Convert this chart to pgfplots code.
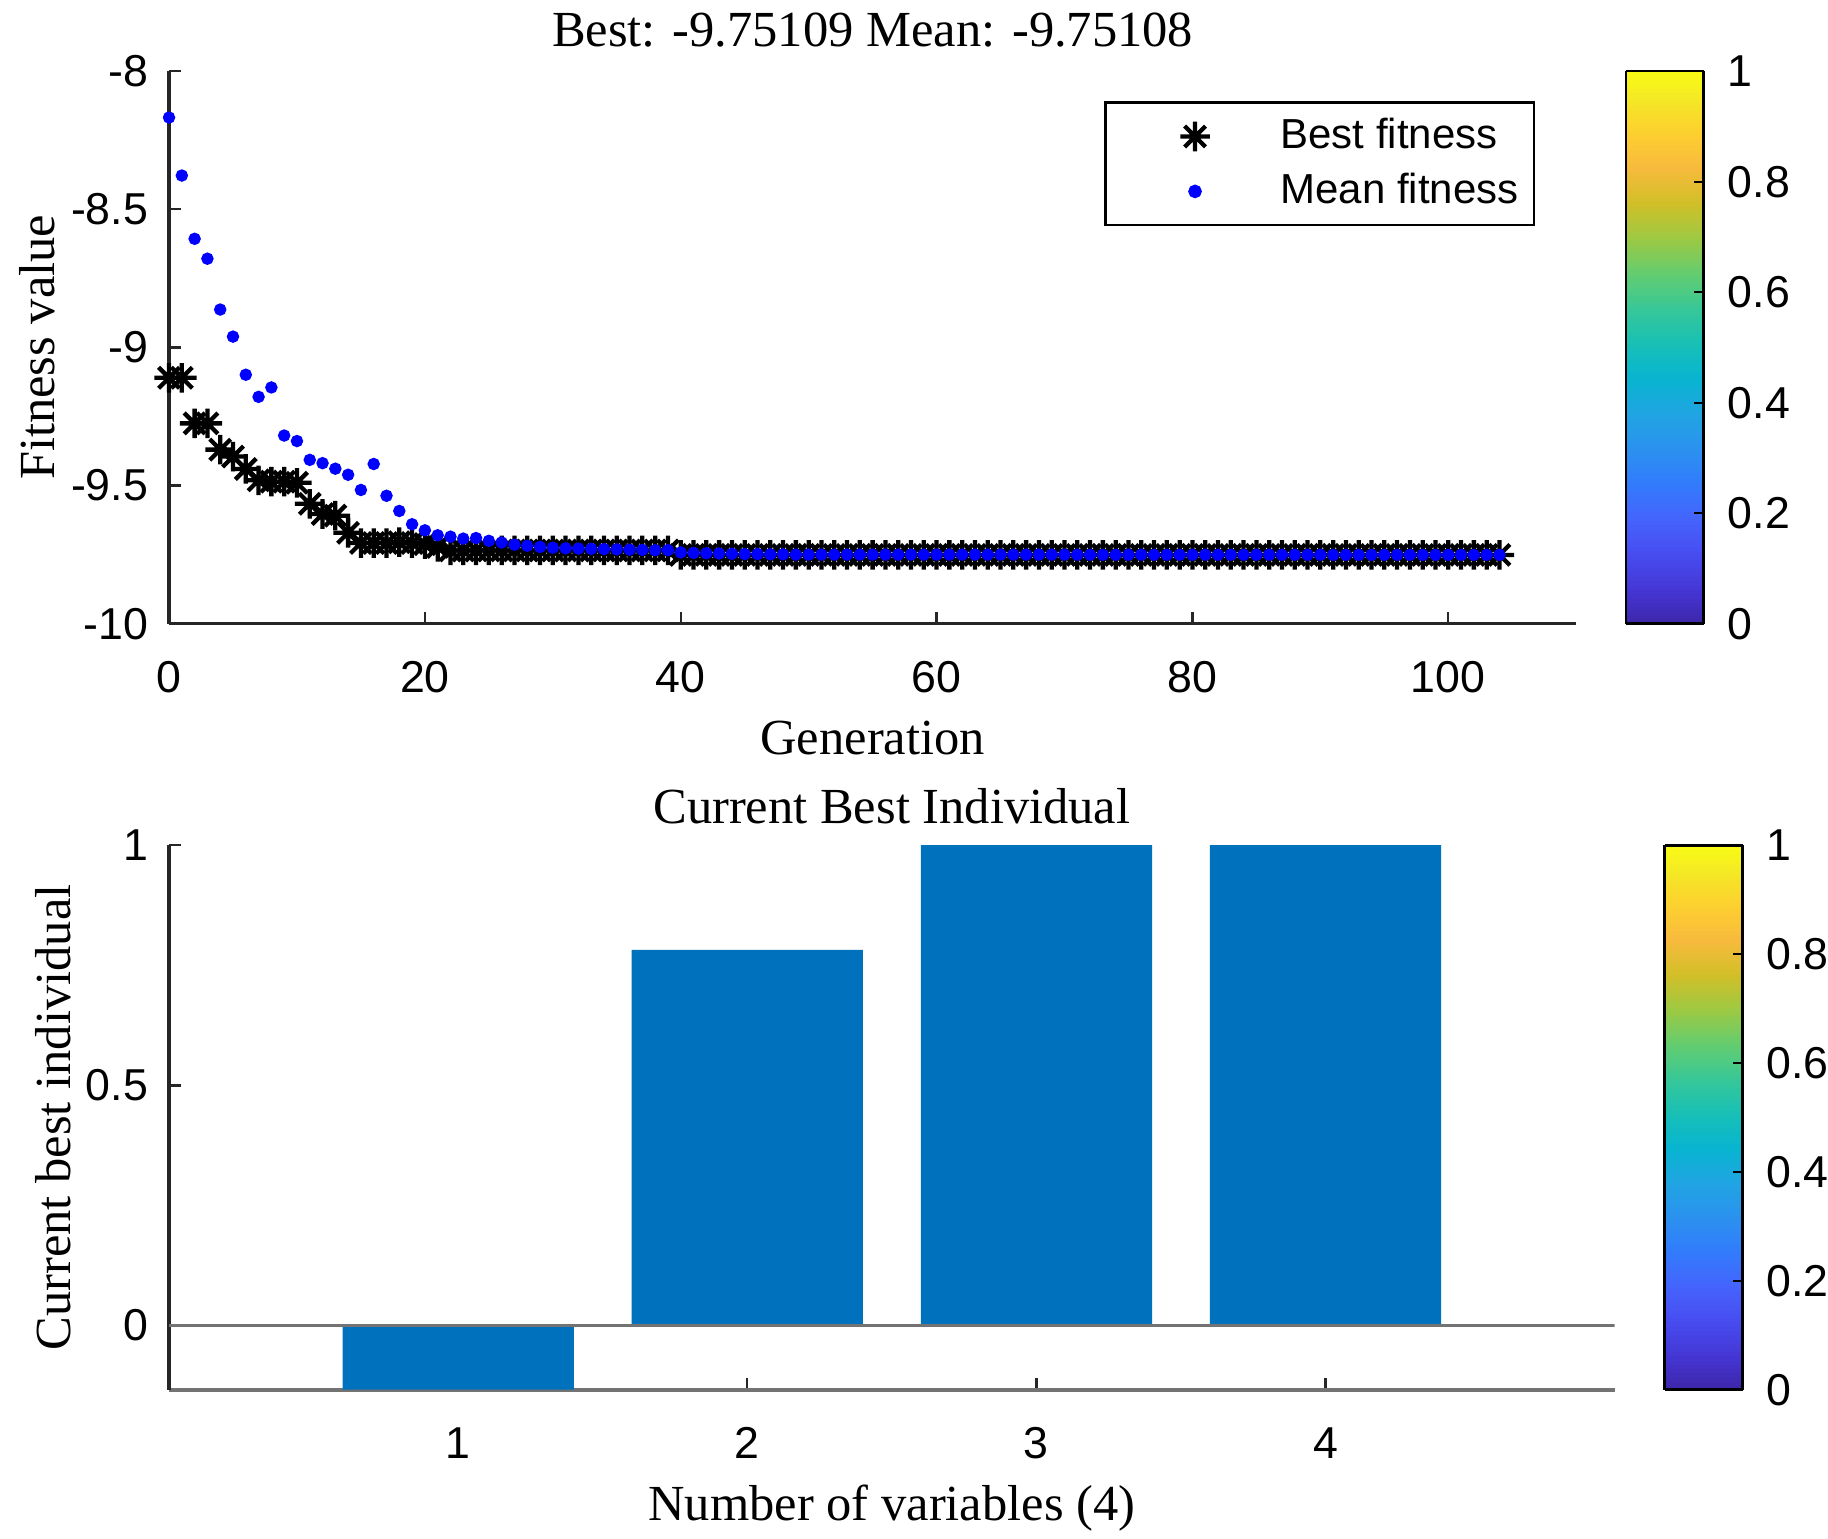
\documentclass[border=0pt]{standalone}
\usepackage{pgfplots}
\pgfplotsset{compat=1.18}
\usepackage{fontspec}
\setmainfont{Liberation Serif}
\setsansfont{Liberation Sans}
\definecolor{matblue}{rgb}{0,0.447,0.741}
\definecolor{axgray}{rgb}{0.15,0.15,0.15}
\pgfplotsset{colormap={parula}{
 rgb(0pt)=(0.2422,0.1504,0.6603) rgb(4pt)=(0.2706,0.2147,0.8364)
 rgb(8pt)=(0.2813,0.3006,0.9414) rgb(12pt)=(0.2699,0.3892,0.9906)
 rgb(16pt)=(0.1963,0.4847,0.9892) rgb(20pt)=(0.1687,0.5703,0.9359)
 rgb(24pt)=(0.1248,0.6459,0.8883) rgb(28pt)=(0.0297,0.7082,0.8163)
 rgb(32pt)=(0.0964,0.7500,0.7120) rgb(36pt)=(0.2161,0.7843,0.5923)
 rgb(40pt)=(0.3909,0.8029,0.4354) rgb(44pt)=(0.6174,0.7876,0.2612)
 rgb(48pt)=(0.8203,0.7498,0.1535) rgb(52pt)=(0.9728,0.7298,0.2394)
 rgb(56pt)=(0.9892,0.8136,0.1885) rgb(60pt)=(0.9597,0.9135,0.1423)
 rgb(63pt)=(0.9769,0.9839,0.0805)}}
\pgfdeclareplotmark{matstar}{%
 \pgfpathmoveto{\pgfqpoint{-\pgfplotmarksize}{0pt}}\pgfpathlineto{\pgfqpoint{\pgfplotmarksize}{0pt}}%
 \pgfpathmoveto{\pgfqpoint{0pt}{-\pgfplotmarksize}}\pgfpathlineto{\pgfqpoint{0pt}{\pgfplotmarksize}}%
 \pgfpathmoveto{\pgfqpoint{-0.7071\pgfplotmarksize}{-0.7071\pgfplotmarksize}}\pgfpathlineto{\pgfqpoint{0.7071\pgfplotmarksize}{0.7071\pgfplotmarksize}}%
 \pgfpathmoveto{\pgfqpoint{-0.7071\pgfplotmarksize}{0.7071\pgfplotmarksize}}\pgfpathlineto{\pgfqpoint{0.7071\pgfplotmarksize}{-0.7071\pgfplotmarksize}}%
 \pgfusepathqstroke}
\newcommand\tickfont{\sffamily\fontsize{11.5}{13}\selectfont}
\newcommand\labfont{\rmfamily\fontsize{13}{15}\selectfont}
\pgfplotsset{
 matax/.style={
  scale only axis,
  axis x line*=bottom, axis y line*=left,
  axis line style={-, axgray, line width=0.8pt},
  tick align=inside, major tick length=3pt,
  tick style={axgray, line width=0.6pt},
  /pgf/number format/assume math mode=true,
  tick label style={font=\tickfont},
  xticklabel style={anchor=base, inner sep=0pt, yshift=-17.7pt},
  yticklabel style={anchor=east, inner sep=0pt, xshift=-5.2pt},
  point meta min=0, point meta max=1,
  colormap name=parula,
  colorbar sampled,
  colorbar shift/.style={xshift=12.4pt},
  colorbar style={
    width=20pt,
    samples=129,
    ytick={0,0.2,0.4,0.6,0.8,1},
    ytick pos=right, yticklabel pos=right,
    tick align=inside, major tick length=2.5pt,
    tick style={black, line width=0.5pt},
    axis line style={black, line width=0.7pt},
    /pgf/number format/assume math mode=true,
    yticklabel style={font=\tickfont, anchor=west, inner sep=0pt, xshift=6pt},
  },
 }
}
\begin{document}
\begin{tikzpicture}
\path[use as bounding box] (0,0) rectangle (470.4pt,396pt);
\begin{axis}[matax,
  at={(43.5pt,235.5pt)}, anchor=south west,
  width=362.1pt, height=142.2pt,
  xmin=0, xmax=110, ymin=-10, ymax=-8,
  xtick={0,20,40,60,80,100}, ytick={-10,-9.5,-9,-8.5,-8},
  clip=false,
  every axis title/.style={at={(axis description cs:0.5,1.0443)}, anchor=base, font=\labfont},
  every axis x label/.style={at={(axis description cs:0.5,-0.2363)}, anchor=base, font=\labfont},
  every axis y label/.style={at={(axis description cs:-0.0812,0.5)}, rotate=90, anchor=base, font=\labfont},
  title={Best: -9.75109 Mean: -9.75108},
  xlabel={Generation}, ylabel={Fitness value},
  legend style={at={(0.971,0.945)}, anchor=north east, draw=black, line width=0.7pt,
    font=\sffamily\fontsize{10.8}{12}\selectfont, inner xsep=2pt, inner ysep=2pt,
    row sep=0.8pt, cells={anchor=west}},
  legend image code/.code={\path[use as bounding box, draw=none] (0pt,-3pt) rectangle (41pt,3pt);
    \path[#1, only marks, draw=none] plot coordinates {(21pt,0pt)};},
]
\addplot[only marks, mark=matstar, mark size=3.8pt, black, line width=1.1pt, mark options={draw=black}] table[row sep=\\]{
x y\\
0 -9.110\\ 1 -9.110\\ 2 -9.275\\ 3 -9.275\\ 4 -9.370\\ 5 -9.395\\ 6 -9.440\\ 7 -9.481\\ 8 -9.486\\ 9 -9.486\\
10 -9.490\\ 11 -9.566\\ 12 -9.603\\ 13 -9.609\\ 14 -9.671\\ 15 -9.708\\ 16 -9.708\\ 17 -9.708\\ 18 -9.705\\ 19 -9.708\\
20 -9.712\\ 21 -9.722\\ 22 -9.735\\ 23 -9.735\\ 24 -9.735\\ 25 -9.735\\ 26 -9.735\\ 27 -9.735\\ 28 -9.735\\ 29 -9.735\\
30 -9.735\\ 31 -9.735\\ 32 -9.735\\ 33 -9.735\\ 34 -9.735\\ 35 -9.735\\ 36 -9.735\\ 37 -9.735\\ 38 -9.735\\ 39 -9.735\\
40 -9.751\\ 41 -9.751\\ 42 -9.751\\ 43 -9.751\\ 44 -9.751\\ 45 -9.751\\ 46 -9.751\\ 47 -9.751\\ 48 -9.751\\ 49 -9.751\\
50 -9.751\\ 51 -9.751\\ 52 -9.751\\ 53 -9.751\\ 54 -9.751\\ 55 -9.751\\ 56 -9.751\\ 57 -9.751\\ 58 -9.751\\ 59 -9.751\\
60 -9.751\\ 61 -9.751\\ 62 -9.751\\ 63 -9.751\\ 64 -9.751\\ 65 -9.751\\ 66 -9.751\\ 67 -9.751\\ 68 -9.751\\ 69 -9.751\\
70 -9.751\\ 71 -9.751\\ 72 -9.751\\ 73 -9.751\\ 74 -9.751\\ 75 -9.751\\ 76 -9.751\\ 77 -9.751\\ 78 -9.751\\ 79 -9.751\\
80 -9.751\\ 81 -9.751\\ 82 -9.751\\ 83 -9.751\\ 84 -9.751\\ 85 -9.751\\ 86 -9.751\\ 87 -9.751\\ 88 -9.751\\ 89 -9.751\\
90 -9.751\\ 91 -9.751\\ 92 -9.751\\ 93 -9.751\\ 94 -9.751\\ 95 -9.751\\ 96 -9.751\\ 97 -9.751\\ 98 -9.751\\ 99 -9.751\\
100 -9.751\\ 101 -9.751\\ 102 -9.751\\ 103 -9.751\\ 104 -9.751\\
};
\addlegendentry{Best fitness}
\addplot[only marks, mark=*, mark size=1.4pt, blue, mark options={draw=none, fill=blue}] table[row sep=\\]{
x y\\
0 -8.168\\ 1 -8.378\\ 2 -8.607\\ 3 -8.679\\ 4 -8.863\\ 5 -8.961\\ 6 -9.099\\ 7 -9.179\\ 8 -9.145\\ 9 -9.319\\
10 -9.339\\ 11 -9.407\\ 12 -9.419\\ 13 -9.439\\ 14 -9.461\\ 15 -9.516\\ 16 -9.422\\ 17 -9.537\\ 18 -9.592\\ 19 -9.640\\
20 -9.662\\ 21 -9.680\\ 22 -9.685\\ 23 -9.692\\ 24 -9.690\\ 25 -9.700\\ 26 -9.706\\ 27 -9.714\\ 28 -9.718\\ 29 -9.722\\
30 -9.725\\ 31 -9.727\\ 32 -9.728\\ 33 -9.729\\ 34 -9.730\\ 35 -9.731\\ 36 -9.732\\ 37 -9.733\\ 38 -9.734\\ 39 -9.734\\
40 -9.742\\ 41 -9.744\\ 42 -9.745\\ 43 -9.746\\ 44 -9.747\\ 45 -9.748\\ 46 -9.748\\ 47 -9.749\\ 48 -9.749\\ 49 -9.750\\
50 -9.750\\ 51 -9.750\\ 52 -9.750\\ 53 -9.750\\ 54 -9.750\\ 55 -9.750\\ 56 -9.750\\ 57 -9.750\\ 58 -9.750\\ 59 -9.750\\
60 -9.750\\ 61 -9.750\\ 62 -9.750\\ 63 -9.750\\ 64 -9.750\\ 65 -9.750\\ 66 -9.750\\ 67 -9.750\\ 68 -9.750\\ 69 -9.750\\
70 -9.750\\ 71 -9.7505\\ 72 -9.7505\\ 73 -9.7505\\ 74 -9.7505\\ 75 -9.7505\\ 76 -9.7505\\ 77 -9.7505\\ 78 -9.7505\\ 79 -9.7505\\
80 -9.7505\\ 81 -9.7505\\ 82 -9.7505\\ 83 -9.7505\\ 84 -9.7505\\ 85 -9.7505\\ 86 -9.7505\\ 87 -9.7505\\ 88 -9.7505\\ 89 -9.7505\\
90 -9.7505\\ 91 -9.7508\\ 92 -9.7508\\ 93 -9.7508\\ 94 -9.7508\\ 95 -9.7508\\ 96 -9.7508\\ 97 -9.7508\\ 98 -9.7508\\ 99 -9.7508\\
100 -9.7508\\ 101 -9.7508\\ 102 -9.7508\\ 103 -9.7508\\ 104 -9.7508\\
};
\addlegendentry{Mean fitness}
\end{axis}
\begin{axis}[matax,
  at={(43.5pt,38.4pt)}, anchor=south west,
  width=372pt, height=140.1pt,
  xmin=0, xmax=5, ymin=-0.1335, ymax=1,
  xtick={1,2,3,4}, ytick={0,0.5,1},
  x axis line style={black!55, line width=1pt},
  every axis title/.style={at={(axis description cs:0.5,1.0407)}, anchor=base, font=\labfont},
  every axis x label/.style={at={(axis description cs:0.5,-0.2398)}, anchor=base, font=\labfont},
  every axis y label/.style={at={(axis description cs:-0.0685,0.5)}, rotate=90, anchor=base, font=\labfont},
  title={Current Best Individual},
  xlabel={Number of variables (4)}, ylabel={Current best individual},
]
\addplot[ybar, bar width=0.8, fill=matblue, draw=none] coordinates {(1,-0.1335) (2,0.782) (3,1) (4,1)};
\addplot[black!55, line width=1pt] coordinates {(0,0) (5,0)};
\end{axis}
\end{tikzpicture}
\end{document}
